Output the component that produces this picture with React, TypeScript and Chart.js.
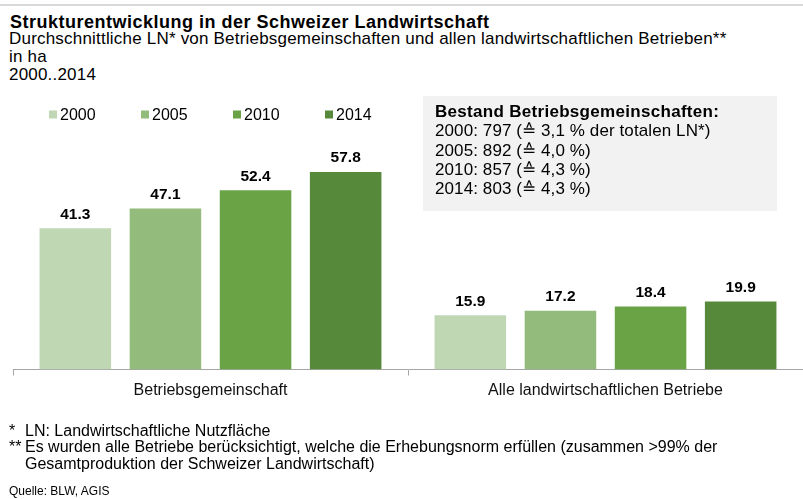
import React, { useEffect, useRef } from "react";
import { Chart, registerables } from "chart.js";

Chart.register(...registerables);

// ---- data ----
const categories = ["Betriebsgemeinschaft", "Alle landwirtschaftlichen Betriebe"];
const years = ["2000", "2005", "2010", "2014"];
const values2000 = [41.3, 15.9];
const values2005 = [47.1, 17.2];
const values2010 = [52.4, 18.4];
const values2014 = [57.8, 19.9];
const seriesValues = [values2000, values2005, values2010, values2014];
const seriesColors = ["#c0d7b4", "#93bc7c", "#6aa345", "#56893a"];
const yMin = 0;
const yMax = 80;

const titleText = "Strukturentwicklung in der Schweizer Landwirtschaft";
const subtitleLines = [
  "Durchschnittliche LN* von Betriebsgemeinschaften und allen landwirtschaftlichen Betrieben**",
  "in ha",
  "2000..2014",
];
const boxTitle = "Bestand Betriebsgemeinschaften:";
const boxLines = [
  "2000: 797 (≙ 3,1 % der totalen LN*)",
  "2005: 892 (≙ 4,0 %)",
  "2010: 857 (≙ 4,3 %)",
  "2014: 803 (≙ 4,3 %)",
];
const footnotes = [
  { mark: "*", text: "LN: Landwirtschaftliche Nutzfläche" },
  { mark: "**", text: "Es wurden alle Betriebe berücksichtigt, welche die Erhebungsnorm erfüllen (zusammen >99% der" },
  { mark: "", text: "Gesamtproduktion der Schweizer Landwirtschaft)" },
];
const sourceText = "Quelle: BLW, AGIS";

const FONT = '"Liberation Sans", Arial, Helvetica, sans-serif';

type TxtProps = {
  x: number;
  baseline: number;
  size: number;
  bold?: boolean;
  ls?: number;
  children: React.ReactNode;
};

function Txt({ x, baseline, size, bold, ls, children }: TxtProps) {
  return (
    <div
      style={{
        position: "absolute",
        left: x,
        top: baseline - 0.8465 * size,
        fontFamily: FONT,
        fontSize: size,
        lineHeight: `${size}px`,
        fontWeight: bold ? "bold" : "normal",
        letterSpacing: ls ? `${ls}px` : undefined,
        whiteSpace: "nowrap",
        color: "#000",
      }}
    >
      {children}
    </div>
  );
}

const legendPlugin = {
  id: "customLegend",
  afterDraw(chart: any) {
    const ctx = chart.ctx;
    ctx.save();
    ctx.font = `16px ${FONT}`;
    ctx.textBaseline = "middle";
    ctx.textAlign = "left";
    const cy = 114.5;
    chart.data.datasets.forEach((ds: any, i: number) => {
      const bx = 49 + i * 92;
      ctx.fillStyle = ds.backgroundColor;
      ctx.fillRect(bx, cy - 4, 8, 8);
      ctx.fillStyle = "#000";
      ctx.fillText(ds.label, bx + 11, cy + 1);
    });
    ctx.restore();
  },
};

const valueLabelPlugin = {
  id: "valueLabels",
  afterDatasetsDraw(chart: any) {
    const ctx = chart.ctx;
    ctx.save();
    ctx.font = `bold 15.5px ${FONT}`;
    ctx.textAlign = "center";
    ctx.textBaseline = "alphabetic";
    ctx.fillStyle = "#000";
    chart.data.datasets.forEach((ds: any, i: number) => {
      const meta = chart.getDatasetMeta(i);
      meta.data.forEach((bar: any, j: number) => {
        const v = ds.data[j];
        ctx.fillText(v.toFixed(1), bar.x, bar.y - 9.5);
      });
    });
    ctx.restore();
  },
};

function BarChart() {
  const ref = useRef<HTMLCanvasElement | null>(null);
  useEffect(() => {
    if (!ref.current) return;
    const chart = new Chart(ref.current, {
      type: "bar",
      data: {
        labels: categories,
        datasets: years.map((y, i) => ({
          label: y,
          data: seriesValues[i],
          backgroundColor: seriesColors[i],
          borderWidth: 0,
          categoryPercentage: 0.9125,
          barPercentage: 0.794,
        })),
      },
      options: {
        responsive: false,
        animation: false,
        devicePixelRatio: 1,
        layout: { padding: { top: 96, left: 13, right: 0, bottom: 94.3 } },
        plugins: {
          legend: { display: false },
          tooltip: { enabled: false },
          title: { display: false },
        },
        scales: {
          x: {
            grid: {
              display: true,
              drawOnChartArea: false,
              drawTicks: true,
              tickLength: 6,
              color: "#a6a6a6",
              offset: true,
            },
            border: { display: true, color: "#a6a6a6", width: 1 },
            ticks: {
              font: { family: FONT, size: 16 },
              color: "#111",
              padding: 5,
              maxRotation: 0,
              autoSkip: false,
            },
          },
          y: { display: false, min: yMin, max: yMax },
        },
      },
      plugins: [legendPlugin, valueLabelPlugin],
    } as any);
    return () => chart.destroy();
  }, []);
  return (
    <canvas
      ref={ref}
      width={803}
      height={499}
      style={{ position: "absolute", left: 0, top: 0, width: 803, height: 499 }}
    />
  );
}

export default function App() {
  return (
    <div
      style={{
        position: "absolute",
        left: 0,
        top: 0,
        width: 803,
        height: 499,
        overflow: "hidden",
        background: "#fff",
      }}
    >
      <div style={{ position: "absolute", left: 0, top: 4, width: 803, height: 2, background: "#d9d9d9" }} />
      <Txt x={10} baseline={28} size={18} bold ls={0.5}>{titleText}</Txt>
      <Txt x={9} baseline={44} size={17} ls={0.2}>{subtitleLines[0]}</Txt>
      <Txt x={9} baseline={62} size={17} ls={0.2}>{subtitleLines[1]}</Txt>
      <Txt x={9} baseline={80} size={17} ls={0.2}>{subtitleLines[2]}</Txt>

      <div
        style={{ position: "absolute", left: 423, top: 96, width: 354, height: 115, background: "#f2f2f2" }}
      />
      <BarChart />
      <Txt x={435} baseline={117.7} size={17} bold ls={0.3}>{boxTitle}</Txt>
      {boxLines.map((l, i) => (
        <Txt key={i} x={435} baseline={136.7 + i * 19.2} size={17} ls={0.1}>{l}</Txt>
      ))}

      {footnotes.map((f, i) => (
        <React.Fragment key={i}>
          {f.mark ? <Txt x={9} baseline={436.5 + i * 16.5} size={16}>{f.mark}</Txt> : null}
          <Txt x={25} baseline={436.5 + i * 16.5} size={16}>{f.text}</Txt>
        </React.Fragment>
      ))}
      <Txt x={9} baseline={495} size={12}>{sourceText}</Txt>
    </div>
  );
}
